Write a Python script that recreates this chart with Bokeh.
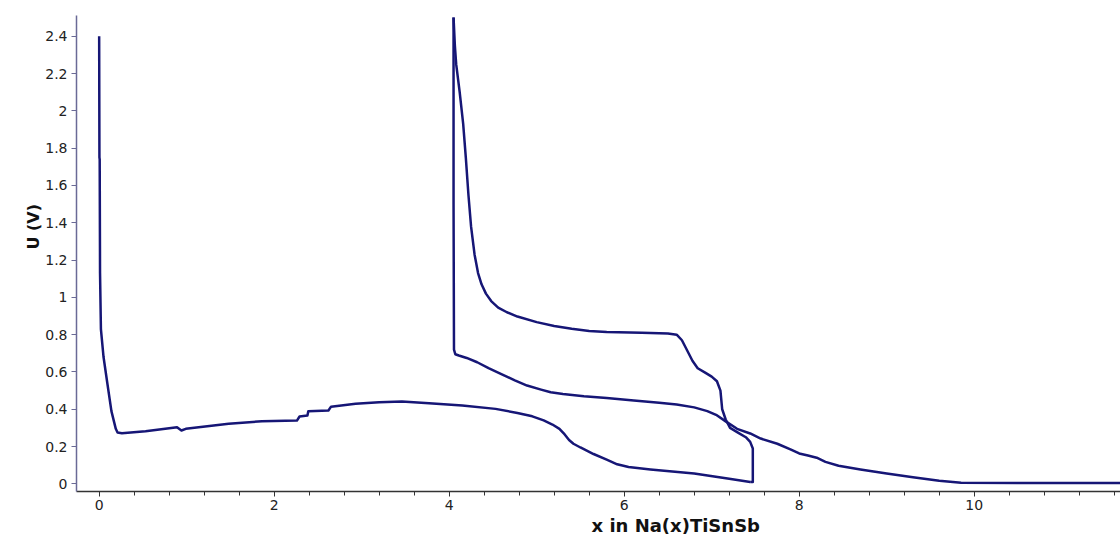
from bokeh.plotting import figure
from bokeh.models import Range1d, FixedTicker, SingleIntervalTicker, CustomJSTickFormatter, Title
from bokeh.embed import file_html
from bokeh.resources import INLINE

# First discharge
discharge1_x = [0.0, 0.003, 0.006, 0.01, 0.02, 0.05, 0.09, 0.14, 0.19, 0.21, 0.26, 0.53, 0.89, 0.94, 0.99,
                1.48, 1.86, 2.26, 2.29, 2.38, 2.39, 2.62, 2.65, 2.93, 3.20, 3.46, 3.77, 4.15, 4.53, 4.78,
                4.95, 5.08, 5.18, 5.26, 5.32, 5.37, 5.42, 5.50, 5.65, 5.80, 5.92, 6.05, 6.30, 6.80, 7.20, 7.44]
discharge1_u = [2.40, 1.75, 1.74, 1.13, 0.83, 0.68, 0.55, 0.39, 0.295, 0.275, 0.271, 0.282, 0.303, 0.286, 0.295,
                0.322, 0.336, 0.339, 0.361, 0.366, 0.389, 0.393, 0.414, 0.429, 0.438, 0.441, 0.432, 0.42, 0.402, 0.38,
                0.362, 0.34, 0.318, 0.295, 0.265, 0.235, 0.215, 0.195, 0.16, 0.13, 0.105, 0.09, 0.077, 0.055, 0.027, 0.01]

# First charge
charge1_x = [7.44, 7.47, 7.47, 7.44, 7.39, 7.30, 7.21, 7.16, 7.12, 7.10, 7.06, 7.00, 6.93, 6.84, 6.78, 6.72,
             6.66, 6.60, 6.50, 6.20, 5.80, 5.60, 5.40, 5.20, 5.00, 4.78, 4.66, 4.56, 4.48, 4.42, 4.37, 4.33,
             4.29, 4.25, 4.22, 4.19, 4.16, 4.12, 4.08, 4.065, 4.05]
charge1_u = [0.01, 0.01, 0.19, 0.225, 0.25, 0.275, 0.30, 0.345, 0.40, 0.50, 0.55, 0.575, 0.595, 0.62, 0.66, 0.715,
             0.77, 0.80, 0.806, 0.81, 0.814, 0.82, 0.831, 0.846, 0.867, 0.897, 0.92, 0.945, 0.98, 1.02, 1.07, 1.13,
             1.23, 1.38, 1.55, 1.75, 1.93, 2.10, 2.25, 2.35, 2.50]

# Second discharge
discharge2_x = [4.05, 4.05, 4.055, 4.07, 4.11, 4.20, 4.32, 4.45, 4.59, 4.75, 4.89, 5.05, 5.16, 5.30, 5.54, 5.80,
                6.11, 6.40, 6.60, 6.80, 6.95, 7.05, 7.16, 7.29, 7.44, 7.56, 7.75, 7.90, 8.00, 8.10, 8.20, 8.30,
                8.45, 8.70, 9.00, 9.30, 9.60, 9.85, 10.50, 11.80]
discharge2_u = [2.50, 1.50, 0.72, 0.695, 0.688, 0.675, 0.652, 0.62, 0.59, 0.555, 0.527, 0.505, 0.491, 0.482, 0.47, 0.46,
                0.447, 0.435, 0.425, 0.41, 0.39, 0.37, 0.335, 0.295, 0.27, 0.243, 0.215, 0.185, 0.163, 0.152, 0.14, 0.118,
                0.097, 0.077, 0.055, 0.035, 0.017, 0.006, 0.005, 0.005]

y_ticks = [0, 0.2, 0.4, 0.6, 0.8, 1, 1.2, 1.4, 1.6, 1.8, 2, 2.2, 2.4]

LINE = "#161676"

p = figure(width=1120, height=538, output_backend="svg", toolbar_location=None,
           x_range=Range1d(-0.259, 11.672), y_range=Range1d(-0.041, 2.511),
           min_border_left=76, min_border_right=0, min_border_top=15, min_border_bottom=47)
p.outline_line_color = None
p.xgrid.grid_line_color = None
p.ygrid.grid_line_color = None
p.background_fill_color = "white"
p.border_fill_color = "white"

for xs, us in [(discharge1_x, discharge1_u), (charge1_x, charge1_u), (discharge2_x, discharge2_u)]:
    p.line(xs, us, line_color=LINE, line_width=2.5, line_join="round")

# x axis
xa = p.xaxis[0]
xa.ticker = SingleIntervalTicker(interval=2, num_minor_ticks=5)
xa.axis_line_color = "#333333"
xa.axis_line_width = 1.5
xa.major_tick_line_color = "#333333"
xa.minor_tick_line_color = "#333333"
xa.major_tick_in = 0
xa.major_tick_out = 5
xa.minor_tick_in = 0
xa.minor_tick_out = 4
xa.major_label_standoff = 3
xa.major_label_text_font = "DejaVu Sans"
xa.major_label_text_font_size = "14px"
xa.major_label_text_color = "#222222"

# y axis
ya = p.yaxis[0]
ya.ticker = FixedTicker(ticks=y_ticks)
ya.formatter = CustomJSTickFormatter(code="return tick.toFixed(1).replace(/\\.0$/, '');")
ya.axis_line_color = "#6a6a96"
ya.axis_line_width = 1.5
ya.major_tick_line_color = "#6a6a96"
ya.minor_tick_line_color = None
ya.major_tick_in = 0
ya.major_tick_out = 5
ya.major_label_standoff = 4
ya.major_label_text_font = "DejaVu Sans"
ya.major_label_text_font_size = "14px"
ya.major_label_text_color = "#222222"

p.add_layout(Title(text="x in Na(x)TiSnSb", align="left", offset=515, text_font="DejaVu Sans",
                   text_font_size="18px", text_font_style="bold", text_color="#111111", standoff=0), "below")
p.add_layout(Title(text="U (V)", align="left", offset=242, text_font="DejaVu Sans",
                   text_font_size="16px", text_font_style="bold", text_color="#111111", standoff=0), "left")

open("out.html", "w").write(file_html(p, INLINE))
